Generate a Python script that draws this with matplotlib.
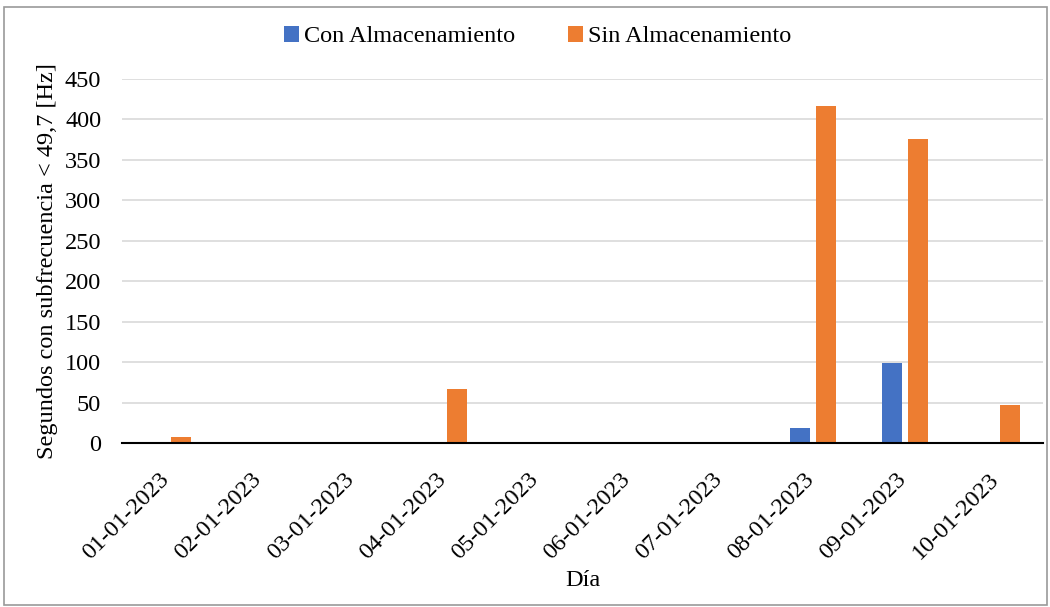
import matplotlib
matplotlib.use("Agg")
import matplotlib.pyplot as plt
import numpy as np
from matplotlib.patches import Rectangle
from matplotlib.transforms import ScaledTranslation

days = ["01-01-2023", "02-01-2023", "03-01-2023", "04-01-2023", "05-01-2023",
        "06-01-2023", "07-01-2023", "08-01-2023", "09-01-2023", "10-01-2023"]
con_alm = [0, 0, 0, 0, 0, 0, 0, 19, 99, 0]
sin_alm = [7, 0, 0, 67, 0, 0, 0, 417, 376, 47]
yticks = [0, 50, 100, 150, 200, 250, 300, 350, 400, 450]

plt.rcParams['font.family'] = ['Liberation Serif', 'DejaVu Serif']
fs = 17.5

fig = plt.figure(figsize=(10.5, 6.07), dpi=100)
ax = fig.add_axes([122/1050, 1 - 443/607, (1043-122)/1050, (443-79)/607])

x = np.arange(len(days))
w = 0.217
off = 0.141
ax.bar(x - off, con_alm, w, color='#4472C4', label='Con Almacenamiento', zorder=3)
ax.bar(x + off, sin_alm, w, color='#ED7D31', label='Sin Almacenamiento', zorder=3)

ax.set_xlim(-0.5, len(days) - 0.5)
ax.set_ylim(0, 450)
ax.set_yticks(yticks)
ax.yaxis.grid(True, color='#d9d9d9', linewidth=1.2, zorder=0)
ax.set_axisbelow(True)
for s in ['top', 'right', 'left']:
    ax.spines[s].set_visible(False)
ax.spines['bottom'].set_color('black')
ax.spines['bottom'].set_linewidth(1.5)
ax.spines['bottom'].set_zorder(4)
ax.tick_params(axis='both', length=0, labelsize=fs)
ax.tick_params(axis='y', pad=15)
ax.set_xticks(x)
ax.set_xticklabels(days, rotation=45, ha='right', rotation_mode='anchor')
ax.tick_params(axis='x', pad=10)
shift = ScaledTranslation(-9/100, -12/100, fig.dpi_scale_trans)
for lbl in ax.get_xticklabels():
    lbl.set_transform(lbl.get_transform() + shift)

ax.set_ylabel('Segundos con subfrecuencia < 49,7 [Hz]', fontsize=fs, labelpad=5)
ax.set_xlabel('Día', fontsize=fs, labelpad=6)
ax.xaxis.set_label_coords(0.5, -(580 - 443) / (443 - 79))
ax.xaxis.label.set_va('center')

ax.legend(loc='upper center', bbox_to_anchor=(0.512, 0.993), bbox_transform=fig.transFigure,
          ncol=2, frameon=False, fontsize=fs, handlelength=0.6, handleheight=0.6,
          handletextpad=0.2, columnspacing=2.2)

fig.patches.append(Rectangle((0.004, 0.003), 0.993, 0.985, transform=fig.transFigure,
                             fill=False, edgecolor='#9a9a9a', linewidth=1.2))

fig.savefig('out.png', dpi=100)
